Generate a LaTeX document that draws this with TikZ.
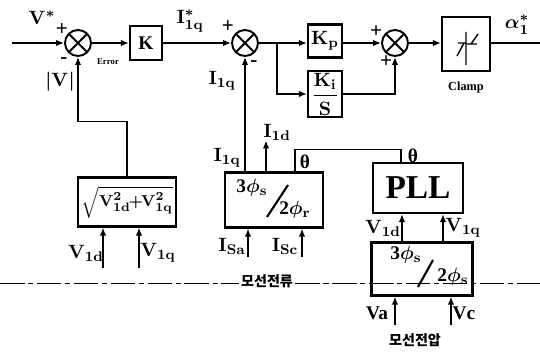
\documentclass[tikz,border=0pt]{standalone}
\usepackage{fontspec}
\setmainfont{Liberation Serif}
\newfontfamily\krfont{Noto Sans CJK KR}
\usetikzlibrary{positioning,arrows.meta,calc}
\newcommand\sgl[2]{$\mathbf{#1}_{\mathbf{#2}}$}
\tikzset{
  blockbox/.style={draw,line width=1.2pt,inner sep=1pt,align=center,
    font=\fontsize{11}{13}\selectfont\bfseries\boldmath},
  sumnode/.style={circle,draw,line width=1.1pt,minimum size=5.2mm,inner sep=0pt,
    path picture={\draw[line width=1.1pt]
      (path picture bounding box.north west)--(path picture bounding box.south east)
      (path picture bounding box.north east)--(path picture bounding box.south west);}},
  flow/.style={-{Latex[length=1.6mm,width=1.3mm]},line width=0.9pt},
  wire/.style={line width=0.9pt},
  sig/.style={font=\fontsize{11}{13}\selectfont\bfseries\boldmath,inner sep=1pt},
  sgn/.style={font=\fontsize{12}{13}\selectfont\bfseries,inner sep=0pt},
  krlabel/.style={font=\fontsize{8}{10}\selectfont\krfont\bfseries,inner sep=1pt},
}
\begin{document}
\begin{tikzpicture}[x=0.02cm,y=-0.02cm]
  \useasboundingbox (0,0) rectangle (540,354);
  % voltage loop
  \coordinate (vin) at (12,43);
  \node[sumnode] (sum1) at (78,43) {};
  \node[blockbox,minimum width=0.64cm,minimum height=0.68cm] (gainK) at (146,43) {K};
  \node[sumnode] (sum2) at (245,43) {};
  \node[blockbox,minimum width=0.68cm,minimum height=0.66cm] (kp) at (325,41) {\sgl{K}{p}};
  \node[blockbox,minimum width=0.68cm,minimum height=0.8cm] (ki) at (325,94)
    {$\displaystyle\frac{\mathbf{K}_{\mathbf{i}}}{\mathbf{S}}$};
  \node[sumnode] (sum3) at (395,43) {};
  \node[blockbox,minimum width=0.96cm,minimum height=1.08cm] (clamp) at (466,44) {};
  \coordinate (out) at (540,43);
  \coordinate (split) at (277,43);
  \draw[flow] (vin) -- (sum1);
  \draw[flow] (sum1) -- (gainK);
  \draw[flow] (gainK) -- (sum2);
  \draw[flow] (sum2) -- (kp.west |- sum2);
  \draw[flow] (split) |- (ki.west);
  \draw[flow] (kp.east |- sum3) -- (sum3);
  \draw[flow] (ki.east) -| (sum3.south);
  \draw[flow] (sum3) -- (clamp.west |- sum3);
  \draw[wire] (clamp.east |- out) -- (out);
  % clamp symbol
  \draw[line width=0.8pt] (466,32) -- (466,65)
    (458,43) -- (465,43) (464,43) -- (457,56)
    (466,44) -- (477,44) (471,44) -- (478,34);
  \node[font=\fontsize{7}{8}\selectfont\bfseries,below=2pt of clamp] (clampname) {Clamp};
  % loop labels
  \node[sig] (vref) at (42,18) {$\mathbf{V}^{*}$};
  \node[sgn] at (62,30) {+};
  \node[sgn] at (64,61) {-};
  \node[sig] (vabs) at (60,82) {$|\mathbf{V}|$};
  \node[font=\fontsize{5}{6}\selectfont\bfseries] (err) at (108,62) {Error};
  \node[sig] (iqref) at (190,21) {$\mathbf{I}_{\mathbf{1q}}^{*}$};
  \node[sgn] at (228,27) {+};
  \node[sgn] at (254,64) {-};
  \node[sig] (iqfb) at (222,81) {\sgl{I}{1q}};
  \node[sgn] at (376,32) {+};
  \node[sgn] at (386,62) {+};
  \node[sig] (alpha) at (517,25) {$\alpha_{1}^{*}$};
  % magnitude block
  \node[blockbox,minimum width=1.9cm,minimum height=0.98cm,inner sep=2pt,
    font=\fontsize{9.5}{11}\selectfont\bfseries\boldmath] (magbox) at (127,202)
    {$\sqrt{\mathbf{V}_{\mathbf{1d}}^{\mathbf{2}}\!\!+\!\!\mathbf{V}_{\mathbf{1q}}^{\mathbf{2}}}$};
  \draw[flow] (magbox.north) -- ++(0,-55) -| (sum1.south);
  \coordinate (vdin) at (103,268);
  \coordinate (vqin) at (139,268);
  \draw[flow] (vdin) -- (vdin |- magbox.south);
  \draw[flow] (vqin) -- (vqin |- magbox.south);
  \node[sig] at (86,253) {\sgl{V}{1d}};
  \node[sig] at (158,253) {\sgl{V}{1q}};
  % current transform
  \node[blockbox,minimum width=1.96cm,minimum height=1.1cm] (ctbox) at (274,200) {};
  \node[sig] at ([shift={(-22,-12)}]ctbox.center) {3$\phi_{\mathbf{s}}$};
  \node[sig] at ([shift={(21,10)}]ctbox.center) {2$\phi_{\mathbf{r}}$};
  \draw[line width=1.2pt] ([shift={(-7,17)}]ctbox.center) -- ([shift={(14,-15)}]ctbox.center);
  \draw[flow] (sum2.south |- ctbox.north) -- (sum2.south);
  \draw[flow] ([xshift=-0.16cm]ctbox.north) -- ++(0,-31);
  \node[sig] at (227,158) {\sgl{I}{1q}};
  \node[sig] at (277,132) {\sgl{I}{1d}};
  \coordinate (isain) at (248,257);
  \coordinate (iscin) at (302,257);
  \draw[flow] (isain) -- (isain |- ctbox.south);
  \draw[flow] (iscin) -- (iscin |- ctbox.south);
  \node[sig] at (232,246) {\sgl{I}{Sa}};
  \node[sig] at (285,246) {\sgl{I}{Sc}};
  % PLL and voltage transform
  \node[blockbox,minimum width=1.8cm,minimum height=1.0cm,
    font=\fontsize{19}{21}\selectfont\bfseries] (pll) at (418,188) {PLL};
  \node[blockbox,minimum width=2.02cm,minimum height=1.06cm] (vtbox) at (422,269) {};
  \node[sig] at ([shift={(-16,-14)}]vtbox.center) {3$\phi_{\mathbf{s}}$};
  \node[sig] at ([shift={(31,8)}]vtbox.center) {2$\phi_{\mathbf{s}}$};
  \draw[line width=1.2pt] ([shift={(-4,18)}]vtbox.center) -- ([shift={(11,-9)}]vtbox.center);
  \draw[wire] ([xshift=0.42cm]ctbox.north) -- ++(0,-22) -| ([xshift=-0.34cm]pll.north);
  \node[sig] at (305,162) {θ};
  \node[sig] at (413,156) {θ};
  \draw[flow] ([xshift=-0.4cm]vtbox.north) -- ([xshift=-0.4cm]vtbox.north |- pll.south);
  \draw[flow] ([xshift=0.42cm]vtbox.north) -- ([xshift=0.42cm]vtbox.north |- pll.south);
  \node[sig] at (383,228) {\sgl{V}{1d}};
  \node[sig] at (463,228) {\sgl{V}{1q}};
  \coordinate (vain) at (395,325);
  \coordinate (vcin) at (451,325);
  \draw[flow] (vain) -- (vain |- vtbox.south);
  \draw[flow] (vcin) -- (vcin |- vtbox.south);
  \node[sig] at (377,313) {Va};
  \node[sig] at (464,313) {Vc};
  % bus line
  \coordinate (busl) at (0,283);
  \coordinate (busr) at (540,283);
  \draw[line width=0.5pt,dash pattern=on 14pt off 2pt on 3pt off 2pt] (busl) -- (busr);
  \node[krlabel,fill=white] (buscur) at (267,281) {모선전류};
  \node[krlabel] (busvolt) at (415,340) {모선전압};
\end{tikzpicture}
\end{document}
